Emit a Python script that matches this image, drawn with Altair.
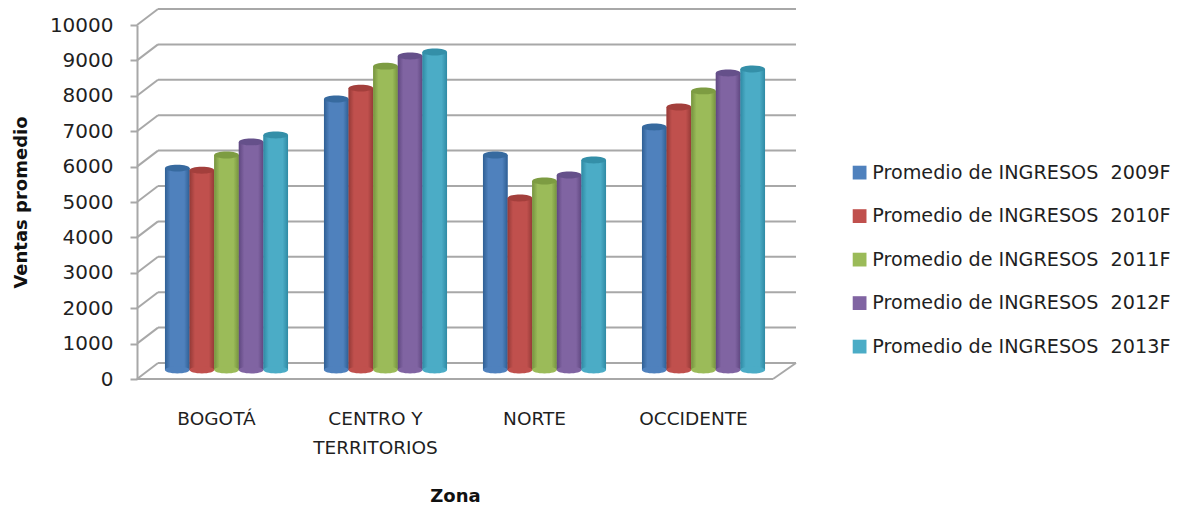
import altair as alt
import pandas as pd

zones = ["BOGOTÁ", "CENTRO Y|TERRITORIOS", "NORTE", "OCCIDENTE"]
series = ["Promedio de INGRESOS\u00a0 2009F", "Promedio de INGRESOS\u00a0 2010F", "Promedio de INGRESOS\u00a0 2011F",
          "Promedio de INGRESOS\u00a0 2012F", "Promedio de INGRESOS\u00a0 2013F"]
values = {
    series[0]: [5760, 7710, 6130, 6920],
    series[1]: [5700, 8020, 4915, 7485],
    series[2]: [6130, 8640, 5395, 7940],
    series[3]: [6500, 8925, 5565, 8445],
    series[4]: [6695, 9040, 5990, 8560],
}
colors = ["#4f81bd", "#c0504d", "#9bbb59", "#8064a2", "#4bacc6"]
edges = ["#2f5f94", "#953a37", "#76933f", "#5f4780", "#2f8aa4"]
caps = ["#376a9f", "#a33f3c", "#7d9c42", "#65508a", "#348fa8"]
ticks = list(range(0, 11000, 1000))

rows = [{"zona": z, "serie": s, "valor": v} for s in series for z, v in zip(zones, values[s])]
df = pd.DataFrame(rows)
grid = pd.DataFrame({"t": ticks, "t2": [t + 452 for t in ticks]})

GRAY = "#a8a8a8"
FONT = "DejaVu Sans"
W, H = 636, 354
DX, DY = 21, 16
BAR_W = 24.6
SHIFT = 10

yaxis_def = alt.Axis(
    values=ticks, format="d", labelOverlap=False, title="Ventas promedio", grid=False,
    domainColor=GRAY, domainWidth=2, tickColor=GRAY, tickWidth=2, tickSize=7, labelPadding=17,
    labelFont=FONT, labelFontSize=20, labelColor="#1f1f1f", titleFont=FONT, titleFontSize=18,
    titleFontWeight="bold", titleColor="#111111", titlePadding=19)
yscale = alt.Scale(domain=[0, 10000], nice=False)
xscale = alt.Scale(domain=zones, range=[SHIFT, W + SHIFT], paddingInner=0.226, paddingOuter=0.113)
oscale = alt.Scale(domain=series)
xaxis_def = alt.Axis(
    title="Zona", titleX=W / 2, labelAngle=0, domain=False, ticks=False, labelPadding=30, labelOffset=-SHIFT,
    labelExpr="split(datum.label, '|')", labelFont=FONT, labelFontSize=18.5, labelLineHeight=29,
    labelColor="#1f1f1f", titleFont=FONT, titleFontSize=18, titleFontWeight="bold",
    titleColor="#111111", titlePadding=31)
X = alt.X("zona:N", scale=xscale, sort=zones, axis=xaxis_def)
XO = alt.XOffset("serie:N", scale=oscale, sort=series)
Yt = alt.Y("t:Q", scale=yscale, axis=yaxis_def)
Yv = alt.Y("valor:Q", scale=yscale, axis=yaxis_def)

back = alt.Chart(grid).mark_rule(color=GRAY, strokeWidth=2, yOffset=-DY).encode(
    y=Yt, x=alt.value(DX), x2=alt.value(W + DX + 2))
diag = alt.Chart(grid).mark_rule(color=GRAY, strokeWidth=2).encode(
    y=Yt, y2="t2:Q", x=alt.value(0), x2=alt.value(DX))
floor = alt.Chart(pd.DataFrame({"t": [0], "t2": [452]})).mark_rule(color=GRAY, strokeWidth=2).encode(
    y=Yt, x=alt.value(0), x2=alt.value(W))
floor_r = alt.Chart(pd.DataFrame({"t": [0], "t2": [452]})).mark_rule(color=GRAY, strokeWidth=2).encode(
    y=Yt, y2="t2:Q", x=alt.value(W), x2=alt.value(W + DX + 2))

OFF = dict(yOffset=-7, y2Offset=-9)
legend_layer = alt.Chart(df).mark_bar(width=BAR_W, **OFF).encode(
    x=X, xOffset=XO,
    y=Yv, y2=alt.Y2(datum=0),
    color=alt.Color("serie:N", sort=series, scale=alt.Scale(domain=series, range=colors), legend=alt.Legend(
        title=None, orient="none", legendX=713, legendY=138, symbolType="square", symbolSize=190,
        symbolStrokeWidth=0, labelFont=FONT, labelFontSize=19.2, labelColor="#1f1f1f", rowPadding=23.5,
        labelLimit=340, labelOffset=3)))

ELLIPSE = "M-1,0 A1,0.28 0 1,1 1,0 A1,0.28 0 1,1 -1,0 Z"
layers = [back, diag, floor, floor_r, legend_layer]
for s, c, e, k in zip(series, colors, edges, caps):
    d = df[df.serie == s]
    grad = alt.Gradient(gradient="linear", x1=0, y1=0, x2=1, y2=0, stops=[
        alt.GradientStop(offset=0, color=e), alt.GradientStop(offset=0.22, color=c),
        alt.GradientStop(offset=0.78, color=c), alt.GradientStop(offset=1, color=e)])
    layers.append(alt.Chart(d).mark_bar(fill=grad, width=BAR_W, **OFF).encode(
        x=X, xOffset=XO, y=Yv, y2=alt.Y2(datum=0)))
    layers.append(alt.Chart(d).mark_point(shape=ELLIPSE, filled=True, opacity=1, color=c, size=BAR_W ** 2,
                                          yOffset=-9).encode(
        x=X, xOffset=XO, y=alt.Y(datum=0, scale=yscale, axis=yaxis_def)))
    layers.append(alt.Chart(d).mark_point(shape=ELLIPSE, filled=True, opacity=1, color=k, size=BAR_W ** 2,
                                          yOffset=-7).encode(
        x=X, xOffset=XO, y=Yv))

chart = alt.layer(*layers).properties(
    width=W, height=H, background="white",
    padding={"left": 129, "top": 17, "right": 399, "bottom": 131},
    autosize=alt.AutoSizeParams(type="none"),
).configure_view(stroke=None)

chart.save("out.html", embed_options={"renderer": "svg", "actions": False})
